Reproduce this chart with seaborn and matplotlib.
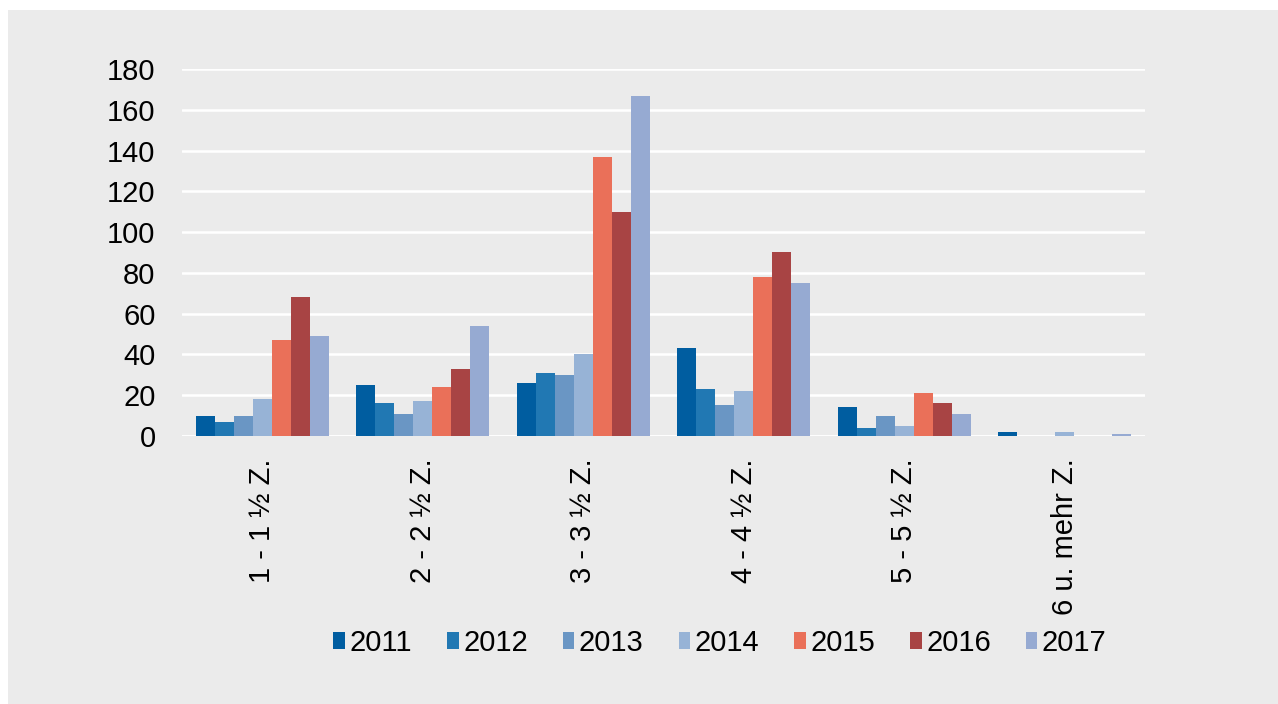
import pandas as pd
import numpy as np
from matplotlib import pyplot as plt
from matplotlib.patches import Rectangle
import seaborn as sns

categories = ['1 - 1 ½ Z.', '2 - 2 ½ Z.', '3 - 3 ½ Z.', '4 - 4 ½ Z.', '5 - 5 ½ Z.', '6 u. mehr Z.']
years = ['2011', '2012', '2013', '2014', '2015', '2016', '2017']

v2011 = [10, 25, 26, 43, 14, 2]
v2012 = [7, 16, 31, 23, 4, 0]
v2013 = [10, 11, 30, 15, 10, 0]
v2014 = [18, 17, 40, 22, 5, 2]
v2015 = [47, 24, 137, 78, 21, 0]
v2016 = [68, 33, 110, 90, 16, 0]
v2017 = [49, 54, 167, 75, 11, 1]

colors = ['#005DA0', '#2178B3', '#6A96C4', '#97B3D6', '#EA7059', '#A84444', '#96AAD2']
BG = '#EBEBEB'

def build_frame():
    series = [v2011, v2012, v2013, v2014, v2015, v2016, v2017]
    rows = []
    for year, vals in zip(years, series):
        for cat, v in zip(categories, vals):
            rows.append({'Kategorie': cat, 'Jahr': year, 'Anzahl': v})
    return pd.DataFrame(rows)

def main():
    df = build_frame()

    sns.set_style('white')
    plt.rcParams['font.family'] = ['Liberation Sans', 'DejaVu Sans']
    plt.rcParams['text.color'] = 'black'

    fig = plt.figure(figsize = (12.78, 7.04), dpi = 100)
    fig.patch.set_facecolor('white')
    # grey panel behind everything, white strip only at top and left
    fig.patches.append(Rectangle((8 / 1278, 0), 1, 694 / 704, transform = fig.transFigure,
                                 facecolor = BG, edgecolor = 'none', zorder = -5))

    ax = fig.add_axes([182 / 1278, 1 - 436 / 704, 963 / 1278, 367 / 704])
    ax.set_facecolor(BG)

    sns.barplot(data = df, x = 'Kategorie', y = 'Anzahl', hue = 'Jahr', order = categories,
                hue_order = years, palette = colors, width = 0.83, linewidth = 0,
                saturation = 1, ax = ax, zorder = 3)

    ax.set_xlim(-0.5, 5.5)
    ax.set_ylim(0, 180)
    ax.set_yticks(np.arange(0, 181, 20))
    ax.yaxis.grid(True, color = 'white', linewidth = 1.8, zorder = 1)
    ax.set_axisbelow(True)
    for s in ax.spines.values():
        s.set_visible(False)
    ax.axhline(0, color = 'white', linewidth = 1.8, zorder = 2)

    ax.tick_params(axis = 'y', length = 0, pad = 19, labelsize = 21, colors = 'black')
    ax.tick_params(axis = 'x', length = 0, pad = 16, labelsize = 21, colors = 'black')
    plt.setp(ax.get_xticklabels(), rotation = 90, va = 'top', ha = 'center')
    ax.set_xlabel('')
    ax.set_ylabel('')

    # the long last label gets cut off just above the legend
    clip = Rectangle((0, 1 - 618 / 704), 1, 618 / 704, transform = fig.transFigure)
    for lab in ax.get_xticklabels():
        lab.set_clip_path(clip)
        lab.set_clip_on(True)

    handles, labels = ax.get_legend_handles_labels()
    ax.legend_.remove()
    leg = fig.legend(handles, labels, loc = 'center', bbox_to_anchor = (720 / 1278, 1 - 643 / 704),
                     ncol = 7, frameon = True, fontsize = 21, handlelength = 0.4, handleheight = 0.5,
                     handletextpad = 0.15, columnspacing = 1.2, borderpad = 0.3)
    leg.get_frame().set_facecolor(BG)
    leg.get_frame().set_edgecolor('none')
    leg.get_frame().set_alpha(1)
    leg.set_zorder(10)
    for t in leg.get_texts():
        t.set_color('black')

    plt.savefig('out.png', dpi = 100)

if __name__ == '__main__':
    main()
